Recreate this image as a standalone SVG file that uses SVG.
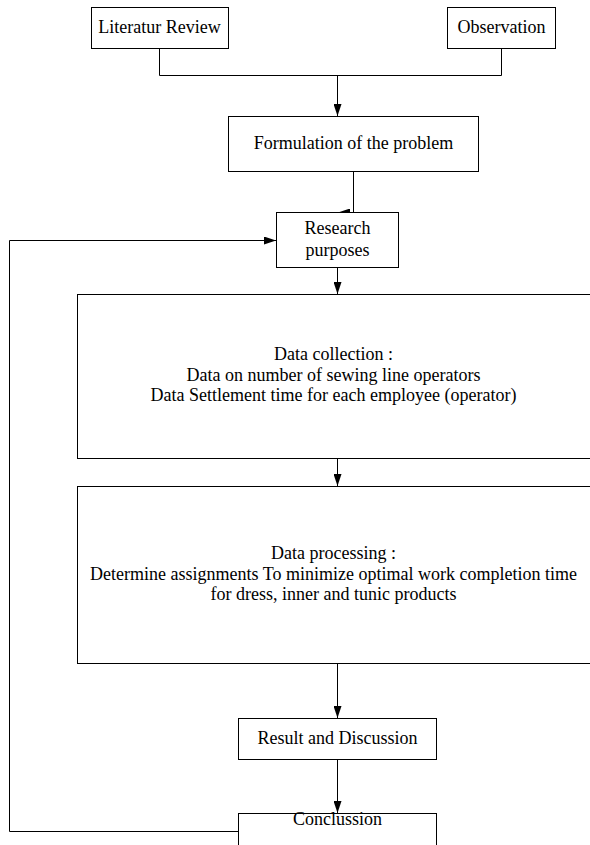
<svg xmlns="http://www.w3.org/2000/svg" width="590" height="845" viewBox="0 0 590 845">
<style>
.box{fill:#fff;stroke:#000;stroke-width:1}
.t{font-family:"Liberation Serif","Times New Roman",serif;font-size:18px;fill:#000;text-anchor:middle}
.c{fill:none;stroke:#000;stroke-width:1}
</style>
<defs>
<marker id="ah" viewBox="0 0 12 8" refX="12" refY="4" markerWidth="12" markerHeight="8" markerUnits="userSpaceOnUse" orient="auto">
<path d="M0,0 L12,4 L0,8 Z" fill="#000"/>
</marker>
</defs>
<rect width="590" height="845" fill="#fff"/>
<g id="connectors">
<path class="c" d="M159.5,48 V75.5 H501.5 V48"/>
<path class="c" d="M337.5,75.5 V116" marker-end="url(#ah)"/>
<path class="c" d="M353.5,171 V212.5 H338" marker-end="url(#ah)"/>
<path class="c" d="M337.5,267 V294" marker-end="url(#ah)"/>
<path class="c" d="M337.5,458 V486" marker-end="url(#ah)"/>
<path class="c" d="M337.5,663 V718" marker-end="url(#ah)"/>
<path class="c" d="M337.5,759 V813" marker-end="url(#ah)"/>
<path class="c" d="M238.5,831.5 H9.5 V240.5 H276" marker-end="url(#ah)"/>
</g>
<g id="literatur-review">
<rect class="box" x="91.5" y="7.5" width="137" height="41"/>
<text class="t" x="159.5" y="33">Literatur Review</text>
</g>
<g id="observation">
<rect class="box" x="447.5" y="7.5" width="108" height="41"/>
<text class="t" x="501.5" y="33">Observation</text>
</g>
<g id="formulation">
<rect class="box" x="228.5" y="116.5" width="250" height="55"/>
<text class="t" x="353.5" y="149">Formulation of the problem</text>
</g>
<g id="research-purposes">
<rect class="box" x="276.5" y="212.5" width="122" height="55"/>
<text class="t" x="337.5" y="234">Research</text>
<text class="t" x="337.5" y="256">purposes</text>
</g>
<g id="data-collection">
<rect class="box" x="77.5" y="294.5" width="530" height="164"/>
<text class="t" x="333.5" y="360">Data collection :</text>
<text class="t" x="333.5" y="380.5">Data on number of sewing line operators</text>
<text class="t" x="333.5" y="401">Data Settlement time for each employee (operator)</text>
</g>
<g id="data-processing">
<rect class="box" x="77.5" y="486.5" width="530" height="177"/>
<text class="t" x="333.5" y="559">Data processing :</text>
<text class="t" x="333.5" y="579.5">Determine assignments To minimize optimal work completion time</text>
<text class="t" x="333.5" y="600">for dress, inner and tunic products</text>
</g>
<g id="result-discussion">
<rect class="box" x="238.5" y="718.5" width="198" height="41"/>
<text class="t" x="337.5" y="744">Result and Discussion</text>
</g>
<g id="conclussion">
<rect class="box" x="238.5" y="813.5" width="198" height="60"/>
<text class="t" x="337.5" y="825">Conclussion</text>
</g>
</svg>
